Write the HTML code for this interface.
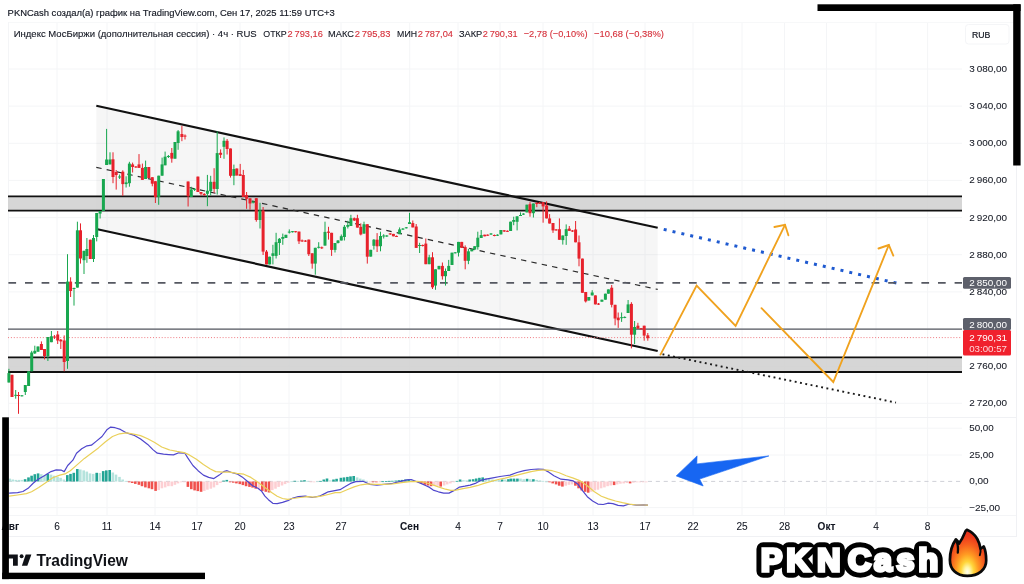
<!DOCTYPE html>
<html lang="ru"><head><meta charset="utf-8"><title>PKNCash - TradingView</title>
<style>
html,body{margin:0;padding:0;background:#fff;}
body{width:1024px;height:584px;overflow:hidden;position:relative;font-family:"Liberation Sans", sans-serif;}
svg{position:absolute;left:0;top:0;display:block}
text{font-family:"Liberation Sans", sans-serif;}
</style></head><body>
<svg width="1024" height="584" viewBox="0 0 1024 584">
<defs>
<radialGradient id="fireO" gradientUnits="userSpaceOnUse" cx="967.3" cy="572" r="40" gradientTransform="translate(967.3 0) scale(0.62 1) translate(-967.3 0)"><stop offset="0" stop-color="#fffff0"/><stop offset="0.12" stop-color="#fff6a8"/><stop offset="0.26" stop-color="#ffd53a"/><stop offset="0.45" stop-color="#ff9a22"/><stop offset="0.68" stop-color="#f7611e"/><stop offset="0.88" stop-color="#ee3c1c"/><stop offset="1" stop-color="#e6301a"/></radialGradient>
</defs>
<rect width="1024" height="584" fill="#fff"/>

<g stroke="#f4f5f7" stroke-width="1">
<line x1="57" y1="22" x2="57" y2="515"/>
<line x1="107" y1="22" x2="107" y2="515"/>
<line x1="155" y1="22" x2="155" y2="515"/>
<line x1="197" y1="22" x2="197" y2="515"/>
<line x1="240" y1="22" x2="240" y2="515"/>
<line x1="289" y1="22" x2="289" y2="515"/>
<line x1="341" y1="22" x2="341" y2="515"/>
<line x1="409.7" y1="22" x2="409.7" y2="515"/>
<line x1="458" y1="22" x2="458" y2="515"/>
<line x1="500" y1="22" x2="500" y2="515"/>
<line x1="543" y1="22" x2="543" y2="515"/>
<line x1="593" y1="22" x2="593" y2="515"/>
<line x1="645" y1="22" x2="645" y2="515"/>
<line x1="693" y1="22" x2="693" y2="515"/>
<line x1="742" y1="22" x2="742" y2="515"/>
<line x1="784.5" y1="22" x2="784.5" y2="515"/>
<line x1="826.5" y1="22" x2="826.5" y2="515"/>
<line x1="876" y1="22" x2="876" y2="515"/>
<line x1="927.6" y1="22" x2="927.6" y2="515"/>
<line x1="8" y1="403.3" x2="962" y2="403.3"/>
<line x1="8" y1="366.2" x2="962" y2="366.2"/>
<line x1="8" y1="329.0" x2="962" y2="329.0"/>
<line x1="8" y1="291.9" x2="962" y2="291.9"/>
<line x1="8" y1="254.7" x2="962" y2="254.7"/>
<line x1="8" y1="217.6" x2="962" y2="217.6"/>
<line x1="8" y1="180.4" x2="962" y2="180.4"/>
<line x1="8" y1="143.3" x2="962" y2="143.3"/>
<line x1="8" y1="106.1" x2="962" y2="106.1"/>
<line x1="8" y1="69.0" x2="962" y2="69.0"/>
<line x1="8" y1="428.2" x2="962" y2="428.2"/>
<line x1="8" y1="455" x2="962" y2="455"/>
<line x1="8" y1="507.6" x2="962" y2="507.6"/>
</g>
<g stroke="#f0f1f4" stroke-width="1" shape-rendering="crispEdges">
<line x1="8" y1="22.5" x2="1016" y2="22.5" stroke="#f7f8f9"/>
<line x1="8" y1="417.5" x2="1016" y2="417.5"/>
<line x1="8" y1="515.5" x2="1016" y2="515.5" stroke="#f4f5f7"/>
<line x1="8" y1="536.5" x2="1016" y2="536.5"/>
<line x1="1016.5" y1="22" x2="1016.5" y2="537"/>
<line x1="8.5" y1="22" x2="8.5" y2="537" stroke="#f4f5f7"/>
</g>
<polygon points="96.3,105.8 657.7,227.8 657.7,351.0 96.3,229.0" fill="#000" fill-opacity="0.035"/>
<rect x="8" y="196.3" width="954" height="14.4" fill="#cfcfcf" fill-opacity="0.85"/>
<rect x="8" y="357.3" width="954" height="14.7" fill="#cfcfcf" fill-opacity="0.85"/>
<line x1="8" y1="196.3" x2="962" y2="196.3" stroke="#111" stroke-width="1.8"/>
<line x1="8" y1="210.7" x2="962" y2="210.7" stroke="#111" stroke-width="1.8"/>
<line x1="8" y1="357.3" x2="962" y2="357.3" stroke="#111" stroke-width="1.8"/>
<line x1="8" y1="372.0" x2="962" y2="372.0" stroke="#111" stroke-width="1.8"/>
<line x1="96.3" y1="105.8" x2="657.7" y2="227.8" stroke="#111" stroke-width="2.2"/>
<line x1="96.3" y1="229.0" x2="657.7" y2="351.0" stroke="#111" stroke-width="2.2"/>
<line x1="96.3" y1="167.4" x2="657.7" y2="289.4" stroke="#2a2a2a" stroke-width="1.15" stroke-dasharray="5.4 5.2"/>
<line x1="663.7" y1="229.4" x2="897" y2="283.2" stroke="#1f5ad0" stroke-width="3" stroke-dasharray="3 6.07"/>
<line x1="662.5" y1="354.3" x2="896" y2="402.6" stroke="#1a1a1a" stroke-width="1.9" stroke-dasharray="1.9 3.5"/>
<line x1="8.4" y1="282.8" x2="962" y2="282.8" stroke="#555861" stroke-width="1.7" stroke-dasharray="7.7 8.9"/>
<line x1="8" y1="329.1" x2="962" y2="329.1" stroke="#53565f" stroke-width="1.3"/>
<line x1="8" y1="337.6" x2="962" y2="337.6" stroke="#ef7b82" stroke-width="1" stroke-dasharray="1 1.9"/>
<g id="candles">
<line x1="8.9" y1="368.8" x2="8.9" y2="382.5" stroke="#18a74f" stroke-width="1"/>
<rect x="7.40" y="373.1" width="3" height="9.4" fill="#18a74f"/>
<line x1="12" y1="374.8" x2="12" y2="397" stroke="#e7222c" stroke-width="1"/>
<rect x="10.50" y="374.8" width="3" height="22.2" fill="#e7222c"/>
<line x1="15.7" y1="390" x2="15.7" y2="398.7" stroke="#18a74f" stroke-width="1"/>
<rect x="14.20" y="394.8" width="3" height="1.0" fill="#18a74f"/>
<line x1="18.5" y1="392" x2="18.5" y2="413.8" stroke="#e7222c" stroke-width="1"/>
<rect x="17.00" y="395" width="3" height="1.0" fill="#e7222c"/>
<line x1="21.9" y1="395" x2="21.9" y2="396.5" stroke="#18a74f" stroke-width="1"/>
<rect x="20.40" y="395.3" width="3" height="1.0" fill="#18a74f"/>
<line x1="25.3" y1="385" x2="25.3" y2="395" stroke="#18a74f" stroke-width="1"/>
<rect x="23.80" y="385" width="3" height="7.0" fill="#18a74f"/>
<line x1="28.6" y1="371.3" x2="28.6" y2="386" stroke="#18a74f" stroke-width="1"/>
<rect x="27.10" y="371.3" width="3" height="14.7" fill="#18a74f"/>
<line x1="31.7" y1="350.8" x2="31.7" y2="371.3" stroke="#18a74f" stroke-width="1"/>
<rect x="30.20" y="352.5" width="3" height="18.8" fill="#18a74f"/>
<line x1="34.8" y1="345.7" x2="34.8" y2="354" stroke="#18a74f" stroke-width="1"/>
<rect x="33.30" y="350.8" width="3" height="2.6" fill="#18a74f"/>
<line x1="38" y1="346.5" x2="38" y2="351.7" stroke="#18a74f" stroke-width="1"/>
<rect x="36.50" y="346.5" width="3" height="5.2" fill="#18a74f"/>
<line x1="41.4" y1="341.4" x2="41.4" y2="350" stroke="#e7222c" stroke-width="1"/>
<rect x="39.90" y="344" width="3" height="6.0" fill="#e7222c"/>
<line x1="44.5" y1="349" x2="44.5" y2="359.4" stroke="#e7222c" stroke-width="1"/>
<rect x="43.00" y="349" width="3" height="7.0" fill="#e7222c"/>
<line x1="47.9" y1="337" x2="47.9" y2="361" stroke="#18a74f" stroke-width="1"/>
<rect x="46.40" y="337" width="3" height="19.0" fill="#18a74f"/>
<line x1="51.4" y1="331" x2="51.4" y2="342.2" stroke="#18a74f" stroke-width="1"/>
<rect x="49.90" y="336.3" width="3" height="5.9" fill="#18a74f"/>
<line x1="54.4" y1="335" x2="54.4" y2="339" stroke="#e7222c" stroke-width="1"/>
<rect x="52.90" y="336.5" width="3" height="1.0" fill="#e7222c"/>
<line x1="57.7" y1="331" x2="57.7" y2="344" stroke="#e7222c" stroke-width="1"/>
<rect x="56.20" y="334.5" width="3" height="6.0" fill="#e7222c"/>
<line x1="60.8" y1="339" x2="60.8" y2="349" stroke="#e7222c" stroke-width="1"/>
<rect x="59.30" y="339.7" width="3" height="1.7" fill="#e7222c"/>
<line x1="64.2" y1="335.4" x2="64.2" y2="371.3" stroke="#e7222c" stroke-width="1"/>
<rect x="62.70" y="340.5" width="3" height="21.5" fill="#e7222c"/>
<line x1="67.5" y1="254.2" x2="67.5" y2="368.8" stroke="#18a74f" stroke-width="1"/>
<rect x="66.00" y="281.6" width="3" height="79.4" fill="#18a74f"/>
<line x1="70.6" y1="277.3" x2="70.6" y2="297" stroke="#e7222c" stroke-width="1"/>
<rect x="69.10" y="281.6" width="3" height="9.4" fill="#e7222c"/>
<line x1="74" y1="287.6" x2="74" y2="305.6" stroke="#18a74f" stroke-width="1"/>
<rect x="72.50" y="288" width="3" height="1.0" fill="#18a74f"/>
<line x1="77.4" y1="221.7" x2="77.4" y2="287.6" stroke="#18a74f" stroke-width="1"/>
<rect x="75.90" y="230.3" width="3" height="57.3" fill="#18a74f"/>
<line x1="80.5" y1="223.4" x2="80.5" y2="263.6" stroke="#e7222c" stroke-width="1"/>
<rect x="79.00" y="230.3" width="3" height="28.2" fill="#e7222c"/>
<line x1="84" y1="250.8" x2="84" y2="274" stroke="#18a74f" stroke-width="1"/>
<rect x="82.50" y="250.8" width="3" height="9.4" fill="#18a74f"/>
<line x1="86.9" y1="238" x2="86.9" y2="262.8" stroke="#18a74f" stroke-width="1"/>
<rect x="85.40" y="249" width="3" height="7.0" fill="#18a74f"/>
<line x1="90.3" y1="239.7" x2="90.3" y2="259" stroke="#e7222c" stroke-width="1"/>
<rect x="88.80" y="239.7" width="3" height="19.3" fill="#e7222c"/>
<line x1="93.5" y1="235" x2="93.5" y2="262" stroke="#18a74f" stroke-width="1"/>
<rect x="92.00" y="238" width="3" height="21.0" fill="#18a74f"/>
<line x1="96.7" y1="213" x2="96.7" y2="241.4" stroke="#18a74f" stroke-width="1"/>
<rect x="95.20" y="213" width="3" height="24.0" fill="#18a74f"/>
<line x1="100.1" y1="211" x2="100.1" y2="218.5" stroke="#18a74f" stroke-width="1"/>
<rect x="98.60" y="211" width="3" height="2.6" fill="#18a74f"/>
<line x1="103.4" y1="179" x2="103.4" y2="211" stroke="#18a74f" stroke-width="1"/>
<rect x="101.90" y="179" width="3" height="32.0" fill="#18a74f"/>
<line x1="106.6" y1="128.9" x2="106.6" y2="165" stroke="#18a74f" stroke-width="1"/>
<rect x="105.10" y="159.5" width="3" height="5.5" fill="#18a74f"/>
<line x1="110" y1="152.3" x2="110" y2="164.4" stroke="#18a74f" stroke-width="1"/>
<rect x="108.50" y="159.5" width="3" height="4.9" fill="#18a74f"/>
<line x1="113" y1="152.3" x2="113" y2="183.2" stroke="#e7222c" stroke-width="1"/>
<rect x="111.50" y="159.3" width="3" height="17.7" fill="#e7222c"/>
<line x1="116.2" y1="170" x2="116.2" y2="189.6" stroke="#e7222c" stroke-width="1"/>
<rect x="114.70" y="172" width="3" height="3.0" fill="#e7222c"/>
<line x1="119.6" y1="174.5" x2="119.6" y2="179" stroke="#18a74f" stroke-width="1"/>
<rect x="118.10" y="176.5" width="3" height="1.0" fill="#18a74f"/>
<line x1="122.8" y1="170.3" x2="122.8" y2="195.9" stroke="#e7222c" stroke-width="1"/>
<rect x="121.30" y="171.7" width="3" height="12.4" fill="#e7222c"/>
<line x1="126.1" y1="176.3" x2="126.1" y2="187.5" stroke="#18a74f" stroke-width="1"/>
<rect x="124.60" y="182.4" width="3" height="1.7" fill="#18a74f"/>
<line x1="129.4" y1="161.8" x2="129.4" y2="186.7" stroke="#18a74f" stroke-width="1"/>
<rect x="127.90" y="163.6" width="3" height="19.6" fill="#18a74f"/>
<line x1="132.6" y1="162.6" x2="132.6" y2="172.5" stroke="#e7222c" stroke-width="1"/>
<rect x="131.10" y="164.4" width="3" height="2.6" fill="#e7222c"/>
<line x1="135.9" y1="166" x2="135.9" y2="168" stroke="#e7222c" stroke-width="1"/>
<rect x="134.40" y="166.5" width="3" height="1.0" fill="#e7222c"/>
<line x1="139" y1="154.1" x2="139" y2="167.9" stroke="#e7222c" stroke-width="1"/>
<rect x="137.50" y="164.4" width="3" height="3.5" fill="#e7222c"/>
<line x1="142.4" y1="163.6" x2="142.4" y2="179.9" stroke="#e7222c" stroke-width="1"/>
<rect x="140.90" y="167.9" width="3" height="12.0" fill="#e7222c"/>
<line x1="145.6" y1="160.6" x2="145.6" y2="179" stroke="#18a74f" stroke-width="1"/>
<rect x="144.10" y="167" width="3" height="12.0" fill="#18a74f"/>
<line x1="148.8" y1="167" x2="148.8" y2="178.1" stroke="#e7222c" stroke-width="1"/>
<rect x="147.30" y="167" width="3" height="11.1" fill="#e7222c"/>
<line x1="152.3" y1="177.2" x2="152.3" y2="186.3" stroke="#e7222c" stroke-width="1"/>
<rect x="150.80" y="177.2" width="3" height="6.5" fill="#e7222c"/>
<line x1="155.4" y1="181.2" x2="155.4" y2="203" stroke="#e7222c" stroke-width="1"/>
<rect x="153.90" y="181.2" width="3" height="15.8" fill="#e7222c"/>
<line x1="158.7" y1="175.7" x2="158.7" y2="204.8" stroke="#18a74f" stroke-width="1"/>
<rect x="157.20" y="175.7" width="3" height="21.3" fill="#18a74f"/>
<line x1="162.1" y1="157.6" x2="162.1" y2="175.7" stroke="#18a74f" stroke-width="1"/>
<rect x="160.60" y="164.4" width="3" height="11.3" fill="#18a74f"/>
<line x1="165.1" y1="151.6" x2="165.1" y2="165.3" stroke="#18a74f" stroke-width="1"/>
<rect x="163.60" y="156.7" width="3" height="8.6" fill="#18a74f"/>
<line x1="168.4" y1="155" x2="168.4" y2="158" stroke="#18a74f" stroke-width="1"/>
<rect x="166.90" y="156" width="3" height="1.0" fill="#18a74f"/>
<line x1="171.8" y1="148" x2="171.8" y2="162.7" stroke="#e7222c" stroke-width="1"/>
<rect x="170.30" y="152.9" width="3" height="5.7" fill="#e7222c"/>
<line x1="175" y1="142" x2="175" y2="158.7" stroke="#18a74f" stroke-width="1"/>
<rect x="173.50" y="142" width="3" height="16.7" fill="#18a74f"/>
<line x1="178.1" y1="130" x2="178.1" y2="149.8" stroke="#18a74f" stroke-width="1"/>
<rect x="176.60" y="131.3" width="3" height="11.7" fill="#18a74f"/>
<line x1="181.9" y1="125.8" x2="181.9" y2="141.2" stroke="#e7222c" stroke-width="1"/>
<rect x="180.40" y="134" width="3" height="3.0" fill="#e7222c"/>
<line x1="185" y1="134.4" x2="185" y2="139.5" stroke="#e7222c" stroke-width="1"/>
<rect x="183.50" y="135.6" width="3" height="1.0" fill="#e7222c"/>
<line x1="188.1" y1="181.5" x2="188.1" y2="206.5" stroke="#e7222c" stroke-width="1"/>
<rect x="186.60" y="181.5" width="3" height="14.7" fill="#e7222c"/>
<line x1="191.3" y1="186.8" x2="191.3" y2="197" stroke="#18a74f" stroke-width="1"/>
<rect x="189.80" y="189.4" width="3" height="7.6" fill="#18a74f"/>
<line x1="194.6" y1="188" x2="194.6" y2="191" stroke="#18a74f" stroke-width="1"/>
<rect x="193.10" y="188.8" width="3" height="1.0" fill="#18a74f"/>
<line x1="197.9" y1="176.6" x2="197.9" y2="192" stroke="#e7222c" stroke-width="1"/>
<rect x="196.40" y="176.6" width="3" height="15.4" fill="#e7222c"/>
<line x1="201" y1="192" x2="201" y2="195.5" stroke="#e7222c" stroke-width="1"/>
<rect x="199.50" y="192" width="3" height="1.8" fill="#e7222c"/>
<line x1="204.2" y1="193" x2="204.2" y2="196" stroke="#e7222c" stroke-width="1"/>
<rect x="202.70" y="194" width="3" height="1.0" fill="#e7222c"/>
<line x1="207.4" y1="174.9" x2="207.4" y2="206.2" stroke="#18a74f" stroke-width="1"/>
<rect x="205.90" y="190.7" width="3" height="3.1" fill="#18a74f"/>
<line x1="210.7" y1="175.8" x2="210.7" y2="195.4" stroke="#18a74f" stroke-width="1"/>
<rect x="209.20" y="181.8" width="3" height="9.4" fill="#18a74f"/>
<line x1="214.1" y1="168.2" x2="214.1" y2="192.8" stroke="#e7222c" stroke-width="1"/>
<rect x="212.60" y="181.8" width="3" height="7.1" fill="#e7222c"/>
<line x1="217.2" y1="131.4" x2="217.2" y2="194.6" stroke="#18a74f" stroke-width="1"/>
<rect x="215.70" y="153.1" width="3" height="35.9" fill="#18a74f"/>
<line x1="220.6" y1="149.4" x2="220.6" y2="158" stroke="#e7222c" stroke-width="1"/>
<rect x="219.10" y="152.8" width="3" height="2.0" fill="#e7222c"/>
<line x1="224" y1="137.4" x2="224" y2="158.8" stroke="#18a74f" stroke-width="1"/>
<rect x="222.50" y="140.8" width="3" height="6.0" fill="#18a74f"/>
<line x1="227.1" y1="139" x2="227.1" y2="154.5" stroke="#e7222c" stroke-width="1"/>
<rect x="225.60" y="140.8" width="3" height="8.2" fill="#e7222c"/>
<line x1="230.5" y1="148.5" x2="230.5" y2="177.6" stroke="#e7222c" stroke-width="1"/>
<rect x="229.00" y="148.5" width="3" height="27.3" fill="#e7222c"/>
<line x1="233.9" y1="164.6" x2="233.9" y2="185.2" stroke="#18a74f" stroke-width="1"/>
<rect x="232.40" y="169" width="3" height="6.8" fill="#18a74f"/>
<line x1="236.8" y1="168.5" x2="236.8" y2="175.5" stroke="#e7222c" stroke-width="1"/>
<rect x="235.30" y="168.5" width="3" height="7.0" fill="#e7222c"/>
<line x1="240.2" y1="163.9" x2="240.2" y2="175.9" stroke="#e7222c" stroke-width="1"/>
<rect x="238.70" y="174.2" width="3" height="1.7" fill="#e7222c"/>
<line x1="243.3" y1="169.9" x2="243.3" y2="197" stroke="#e7222c" stroke-width="1"/>
<rect x="241.80" y="175" width="3" height="22.0" fill="#e7222c"/>
<line x1="246.6" y1="192" x2="246.6" y2="208.8" stroke="#e7222c" stroke-width="1"/>
<rect x="245.10" y="195" width="3" height="3.8" fill="#e7222c"/>
<line x1="250" y1="198.3" x2="250" y2="209.7" stroke="#e7222c" stroke-width="1"/>
<rect x="248.50" y="198.3" width="3" height="5.2" fill="#e7222c"/>
<line x1="253.1" y1="200.5" x2="253.1" y2="203.5" stroke="#18a74f" stroke-width="1"/>
<rect x="251.60" y="201.7" width="3" height="1.0" fill="#18a74f"/>
<line x1="256.3" y1="198.2" x2="256.3" y2="221.7" stroke="#e7222c" stroke-width="1"/>
<rect x="254.80" y="198.2" width="3" height="21.8" fill="#e7222c"/>
<line x1="260" y1="202.8" x2="260" y2="228.5" stroke="#18a74f" stroke-width="1"/>
<rect x="258.50" y="210.5" width="3" height="9.5" fill="#18a74f"/>
<line x1="263.1" y1="207" x2="263.1" y2="255" stroke="#e7222c" stroke-width="1"/>
<rect x="261.60" y="210.5" width="3" height="41.1" fill="#e7222c"/>
<line x1="266.5" y1="250" x2="266.5" y2="264.4" stroke="#e7222c" stroke-width="1"/>
<rect x="265.00" y="251.6" width="3" height="12.8" fill="#e7222c"/>
<line x1="269.6" y1="256.7" x2="269.6" y2="264.4" stroke="#18a74f" stroke-width="1"/>
<rect x="268.10" y="256.7" width="3" height="7.7" fill="#18a74f"/>
<line x1="272.9" y1="244.8" x2="272.9" y2="264.4" stroke="#18a74f" stroke-width="1"/>
<rect x="271.40" y="253.3" width="3" height="2.6" fill="#18a74f"/>
<line x1="276.1" y1="232.8" x2="276.1" y2="258.5" stroke="#18a74f" stroke-width="1"/>
<rect x="274.60" y="242.2" width="3" height="13.7" fill="#18a74f"/>
<line x1="279.4" y1="238" x2="279.4" y2="255" stroke="#18a74f" stroke-width="1"/>
<rect x="277.90" y="238.8" width="3" height="4.2" fill="#18a74f"/>
<line x1="282.8" y1="233.6" x2="282.8" y2="244.8" stroke="#18a74f" stroke-width="1"/>
<rect x="281.30" y="237" width="3" height="1.8" fill="#18a74f"/>
<line x1="285.9" y1="234.8" x2="285.9" y2="237.9" stroke="#18a74f" stroke-width="1"/>
<rect x="284.40" y="234.8" width="3" height="3.1" fill="#18a74f"/>
<line x1="289.3" y1="229.4" x2="289.3" y2="233.5" stroke="#18a74f" stroke-width="1"/>
<rect x="287.80" y="231.6" width="3" height="1.0" fill="#18a74f"/>
<line x1="292.5" y1="231" x2="292.5" y2="232.5" stroke="#18a74f" stroke-width="1"/>
<rect x="291.00" y="231.2" width="3" height="1.0" fill="#18a74f"/>
<line x1="295.6" y1="231" x2="295.6" y2="232.5" stroke="#e7222c" stroke-width="1"/>
<rect x="294.10" y="231.2" width="3" height="1.0" fill="#e7222c"/>
<line x1="299" y1="231.6" x2="299" y2="244" stroke="#e7222c" stroke-width="1"/>
<rect x="297.50" y="231.6" width="3" height="9.7" fill="#e7222c"/>
<line x1="302.1" y1="239.5" x2="302.1" y2="242" stroke="#e7222c" stroke-width="1"/>
<rect x="300.60" y="240.4" width="3" height="1.0" fill="#e7222c"/>
<line x1="305.4" y1="240" x2="305.4" y2="242" stroke="#e7222c" stroke-width="1"/>
<rect x="303.90" y="240.6" width="3" height="1.0" fill="#e7222c"/>
<line x1="308.8" y1="239.6" x2="308.8" y2="256" stroke="#e7222c" stroke-width="1"/>
<rect x="307.30" y="239.6" width="3" height="14.6" fill="#e7222c"/>
<line x1="312.2" y1="253.3" x2="312.2" y2="268.7" stroke="#e7222c" stroke-width="1"/>
<rect x="310.70" y="253.3" width="3" height="10.3" fill="#e7222c"/>
<line x1="315.3" y1="247.8" x2="315.3" y2="274.7" stroke="#18a74f" stroke-width="1"/>
<rect x="313.80" y="247.8" width="3" height="15.8" fill="#18a74f"/>
<line x1="318.7" y1="242.2" x2="318.7" y2="248.5" stroke="#18a74f" stroke-width="1"/>
<rect x="317.20" y="246.8" width="3" height="1.0" fill="#18a74f"/>
<line x1="321.8" y1="246.5" x2="321.8" y2="249" stroke="#e7222c" stroke-width="1"/>
<rect x="320.30" y="247.3" width="3" height="1.0" fill="#e7222c"/>
<line x1="325" y1="221.7" x2="325" y2="245.6" stroke="#18a74f" stroke-width="1"/>
<rect x="323.50" y="231.9" width="3" height="13.7" fill="#18a74f"/>
<line x1="328.5" y1="226.8" x2="328.5" y2="239.6" stroke="#e7222c" stroke-width="1"/>
<rect x="327.00" y="231.6" width="3" height="1.2" fill="#e7222c"/>
<line x1="331.6" y1="232.8" x2="331.6" y2="255.9" stroke="#e7222c" stroke-width="1"/>
<rect x="330.10" y="232.8" width="3" height="17.1" fill="#e7222c"/>
<line x1="335" y1="243" x2="335" y2="252.5" stroke="#18a74f" stroke-width="1"/>
<rect x="333.50" y="243" width="3" height="6.9" fill="#18a74f"/>
<line x1="338" y1="240" x2="338" y2="243.5" stroke="#18a74f" stroke-width="1"/>
<rect x="336.50" y="240.5" width="3" height="2.5" fill="#18a74f"/>
<line x1="341.3" y1="234.5" x2="341.3" y2="240.5" stroke="#18a74f" stroke-width="1"/>
<rect x="339.80" y="236.2" width="3" height="4.3" fill="#18a74f"/>
<line x1="344.4" y1="225" x2="344.4" y2="240.5" stroke="#18a74f" stroke-width="1"/>
<rect x="342.90" y="226.8" width="3" height="10.2" fill="#18a74f"/>
<line x1="347.8" y1="220.8" x2="347.8" y2="228.5" stroke="#18a74f" stroke-width="1"/>
<rect x="346.30" y="225" width="3" height="1.8" fill="#18a74f"/>
<line x1="350.9" y1="214.8" x2="350.9" y2="226" stroke="#18a74f" stroke-width="1"/>
<rect x="349.40" y="218.2" width="3" height="7.8" fill="#18a74f"/>
<line x1="354.3" y1="217.5" x2="354.3" y2="221" stroke="#e7222c" stroke-width="1"/>
<rect x="352.80" y="218.2" width="3" height="2.3" fill="#e7222c"/>
<line x1="357.4" y1="214.8" x2="357.4" y2="227.6" stroke="#e7222c" stroke-width="1"/>
<rect x="355.90" y="218.2" width="3" height="9.4" fill="#e7222c"/>
<line x1="360.8" y1="223.4" x2="360.8" y2="235.4" stroke="#e7222c" stroke-width="1"/>
<rect x="359.30" y="226.8" width="3" height="7.7" fill="#e7222c"/>
<line x1="364" y1="221.7" x2="364" y2="233.6" stroke="#18a74f" stroke-width="1"/>
<rect x="362.50" y="224.2" width="3" height="9.4" fill="#18a74f"/>
<line x1="367.3" y1="224.2" x2="367.3" y2="263.6" stroke="#e7222c" stroke-width="1"/>
<rect x="365.80" y="224.2" width="3" height="32.5" fill="#e7222c"/>
<line x1="370.7" y1="249.8" x2="370.7" y2="256.6" stroke="#18a74f" stroke-width="1"/>
<rect x="369.20" y="249.8" width="3" height="6.8" fill="#18a74f"/>
<line x1="373.9" y1="239" x2="373.9" y2="249.6" stroke="#18a74f" stroke-width="1"/>
<rect x="372.40" y="239.7" width="3" height="6.1" fill="#18a74f"/>
<line x1="377.1" y1="233.1" x2="377.1" y2="252" stroke="#e7222c" stroke-width="1"/>
<rect x="375.60" y="239.7" width="3" height="6.6" fill="#e7222c"/>
<line x1="380.5" y1="231.7" x2="380.5" y2="251.3" stroke="#18a74f" stroke-width="1"/>
<rect x="379.00" y="236" width="3" height="10.2" fill="#18a74f"/>
<line x1="383.7" y1="234.2" x2="383.7" y2="238.5" stroke="#18a74f" stroke-width="1"/>
<rect x="382.20" y="235.5" width="3" height="1.0" fill="#18a74f"/>
<line x1="386.8" y1="235" x2="386.8" y2="237" stroke="#18a74f" stroke-width="1"/>
<rect x="385.30" y="235.5" width="3" height="1.0" fill="#18a74f"/>
<line x1="390.2" y1="233" x2="390.2" y2="235" stroke="#e7222c" stroke-width="1"/>
<rect x="388.70" y="233.4" width="3" height="1.0" fill="#e7222c"/>
<line x1="393.4" y1="233.9" x2="393.4" y2="236.3" stroke="#e7222c" stroke-width="1"/>
<rect x="391.90" y="233.9" width="3" height="2.4" fill="#e7222c"/>
<line x1="396.5" y1="235.5" x2="396.5" y2="237" stroke="#e7222c" stroke-width="1"/>
<rect x="395.00" y="235.9" width="3" height="1.0" fill="#e7222c"/>
<line x1="399.6" y1="227.4" x2="399.6" y2="234.2" stroke="#18a74f" stroke-width="1"/>
<rect x="398.10" y="229.4" width="3" height="4.8" fill="#18a74f"/>
<line x1="402.9" y1="228" x2="402.9" y2="230" stroke="#18a74f" stroke-width="1"/>
<rect x="401.40" y="228.6" width="3" height="1.0" fill="#18a74f"/>
<line x1="406.3" y1="227" x2="406.3" y2="228.5" stroke="#18a74f" stroke-width="1"/>
<rect x="404.80" y="227.3" width="3" height="1.0" fill="#18a74f"/>
<line x1="409.5" y1="212.8" x2="409.5" y2="224" stroke="#18a74f" stroke-width="1"/>
<rect x="408.00" y="222.2" width="3" height="1.8" fill="#18a74f"/>
<line x1="412.8" y1="220.5" x2="412.8" y2="227.4" stroke="#e7222c" stroke-width="1"/>
<rect x="411.30" y="223.1" width="3" height="4.3" fill="#e7222c"/>
<line x1="416.2" y1="224" x2="416.2" y2="247.9" stroke="#e7222c" stroke-width="1"/>
<rect x="414.70" y="226.5" width="3" height="21.4" fill="#e7222c"/>
<line x1="419.6" y1="242.8" x2="419.6" y2="253" stroke="#18a74f" stroke-width="1"/>
<rect x="418.10" y="245" width="3" height="1.0" fill="#18a74f"/>
<line x1="422.7" y1="244.5" x2="422.7" y2="246.5" stroke="#e7222c" stroke-width="1"/>
<rect x="421.20" y="245" width="3" height="1.0" fill="#e7222c"/>
<line x1="425.8" y1="238.5" x2="425.8" y2="264.2" stroke="#e7222c" stroke-width="1"/>
<rect x="424.30" y="243.6" width="3" height="20.6" fill="#e7222c"/>
<line x1="429.2" y1="254.8" x2="429.2" y2="264.2" stroke="#18a74f" stroke-width="1"/>
<rect x="427.70" y="257.3" width="3" height="6.9" fill="#18a74f"/>
<line x1="432.5" y1="252.2" x2="432.5" y2="289" stroke="#e7222c" stroke-width="1"/>
<rect x="431.00" y="257.3" width="3" height="30.0" fill="#e7222c"/>
<line x1="435.5" y1="269.3" x2="435.5" y2="289.8" stroke="#18a74f" stroke-width="1"/>
<rect x="434.00" y="269.3" width="3" height="16.3" fill="#18a74f"/>
<line x1="439" y1="265.9" x2="439" y2="269.3" stroke="#18a74f" stroke-width="1"/>
<rect x="437.50" y="265.9" width="3" height="3.4" fill="#18a74f"/>
<line x1="442.4" y1="262.5" x2="442.4" y2="279.6" stroke="#e7222c" stroke-width="1"/>
<rect x="440.90" y="265.9" width="3" height="10.3" fill="#e7222c"/>
<line x1="445.5" y1="268.5" x2="445.5" y2="285.6" stroke="#18a74f" stroke-width="1"/>
<rect x="444.00" y="271" width="3" height="5.2" fill="#18a74f"/>
<line x1="448.7" y1="259.9" x2="448.7" y2="271" stroke="#18a74f" stroke-width="1"/>
<rect x="447.20" y="265.9" width="3" height="5.1" fill="#18a74f"/>
<line x1="452" y1="252.7" x2="452" y2="265" stroke="#18a74f" stroke-width="1"/>
<rect x="450.50" y="252.7" width="3" height="12.3" fill="#18a74f"/>
<line x1="455.2" y1="252" x2="455.2" y2="253.5" stroke="#18a74f" stroke-width="1"/>
<rect x="453.70" y="252.3" width="3" height="1.0" fill="#18a74f"/>
<line x1="458.5" y1="241.9" x2="458.5" y2="256.5" stroke="#18a74f" stroke-width="1"/>
<rect x="457.00" y="241.9" width="3" height="10.8" fill="#18a74f"/>
<line x1="461.7" y1="241.9" x2="461.7" y2="247.9" stroke="#e7222c" stroke-width="1"/>
<rect x="460.20" y="241.9" width="3" height="6.0" fill="#e7222c"/>
<line x1="465.2" y1="245.4" x2="465.2" y2="269.3" stroke="#e7222c" stroke-width="1"/>
<rect x="463.70" y="247.1" width="3" height="13.7" fill="#e7222c"/>
<line x1="468.4" y1="248.8" x2="468.4" y2="264.2" stroke="#18a74f" stroke-width="1"/>
<rect x="466.90" y="251.3" width="3" height="9.5" fill="#18a74f"/>
<line x1="471.8" y1="249.3" x2="471.8" y2="251.3" stroke="#18a74f" stroke-width="1"/>
<rect x="470.30" y="249.3" width="3" height="2.0" fill="#18a74f"/>
<line x1="474.7" y1="246.2" x2="474.7" y2="249.6" stroke="#18a74f" stroke-width="1"/>
<rect x="473.20" y="246.2" width="3" height="3.4" fill="#18a74f"/>
<line x1="477.8" y1="231.7" x2="477.8" y2="249.6" stroke="#18a74f" stroke-width="1"/>
<rect x="476.30" y="237.7" width="3" height="9.4" fill="#18a74f"/>
<line x1="481.2" y1="230" x2="481.2" y2="238" stroke="#18a74f" stroke-width="1"/>
<rect x="479.70" y="235.1" width="3" height="2.9" fill="#18a74f"/>
<line x1="484.7" y1="234.7" x2="484.7" y2="236.3" stroke="#e7222c" stroke-width="1"/>
<rect x="483.20" y="234.7" width="3" height="1.6" fill="#e7222c"/>
<line x1="487.7" y1="234.3" x2="487.7" y2="236" stroke="#e7222c" stroke-width="1"/>
<rect x="486.20" y="234.7" width="3" height="1.0" fill="#e7222c"/>
<line x1="491" y1="233" x2="491" y2="235" stroke="#18a74f" stroke-width="1"/>
<rect x="489.50" y="233.5" width="3" height="1.0" fill="#18a74f"/>
<line x1="494.4" y1="234.5" x2="494.4" y2="236.3" stroke="#e7222c" stroke-width="1"/>
<rect x="492.90" y="235" width="3" height="1.0" fill="#e7222c"/>
<line x1="497.5" y1="234.3" x2="497.5" y2="236" stroke="#18a74f" stroke-width="1"/>
<rect x="496.00" y="234.7" width="3" height="1.0" fill="#18a74f"/>
<line x1="500.9" y1="230" x2="500.9" y2="234.4" stroke="#18a74f" stroke-width="1"/>
<rect x="499.40" y="230" width="3" height="4.4" fill="#18a74f"/>
<line x1="504.2" y1="230" x2="504.2" y2="232" stroke="#e7222c" stroke-width="1"/>
<rect x="502.70" y="230.3" width="3" height="1.2" fill="#e7222c"/>
<line x1="507.4" y1="230.4" x2="507.4" y2="232" stroke="#e7222c" stroke-width="1"/>
<rect x="505.90" y="230.8" width="3" height="1.0" fill="#e7222c"/>
<line x1="510.6" y1="221.7" x2="510.6" y2="231" stroke="#18a74f" stroke-width="1"/>
<rect x="509.10" y="221.7" width="3" height="9.3" fill="#18a74f"/>
<line x1="513.7" y1="216.7" x2="513.7" y2="225.2" stroke="#18a74f" stroke-width="1"/>
<rect x="512.20" y="220" width="3" height="1.8" fill="#18a74f"/>
<line x1="517.1" y1="216.3" x2="517.1" y2="230.4" stroke="#18a74f" stroke-width="1"/>
<rect x="515.60" y="216.3" width="3" height="5.5" fill="#18a74f"/>
<line x1="520.5" y1="212.4" x2="520.5" y2="216" stroke="#18a74f" stroke-width="1"/>
<rect x="519.00" y="215" width="3" height="1.0" fill="#18a74f"/>
<line x1="523.4" y1="213.2" x2="523.4" y2="215" stroke="#18a74f" stroke-width="1"/>
<rect x="521.90" y="213.6" width="3" height="1.0" fill="#18a74f"/>
<line x1="526.9" y1="204.7" x2="526.9" y2="212.4" stroke="#18a74f" stroke-width="1"/>
<rect x="525.40" y="204.7" width="3" height="7.7" fill="#18a74f"/>
<line x1="530" y1="202.1" x2="530" y2="216.7" stroke="#e7222c" stroke-width="1"/>
<rect x="528.50" y="204.2" width="3" height="9.0" fill="#e7222c"/>
<line x1="533.4" y1="203.5" x2="533.4" y2="217.5" stroke="#18a74f" stroke-width="1"/>
<rect x="531.90" y="203.5" width="3" height="9.7" fill="#18a74f"/>
<line x1="536.8" y1="202.1" x2="536.8" y2="207.2" stroke="#e7222c" stroke-width="1"/>
<rect x="535.30" y="203" width="3" height="1.0" fill="#e7222c"/>
<line x1="539.7" y1="202" x2="539.7" y2="204" stroke="#e7222c" stroke-width="1"/>
<rect x="538.20" y="202.6" width="3" height="1.0" fill="#e7222c"/>
<line x1="543.1" y1="202.1" x2="543.1" y2="222.7" stroke="#e7222c" stroke-width="1"/>
<rect x="541.60" y="202.1" width="3" height="4.3" fill="#e7222c"/>
<line x1="546.6" y1="201.3" x2="546.6" y2="218.4" stroke="#e7222c" stroke-width="1"/>
<rect x="545.10" y="205.5" width="3" height="12.9" fill="#e7222c"/>
<line x1="549.6" y1="214.1" x2="549.6" y2="223.5" stroke="#e7222c" stroke-width="1"/>
<rect x="548.10" y="218.4" width="3" height="5.1" fill="#e7222c"/>
<line x1="553" y1="223" x2="553" y2="232.9" stroke="#e7222c" stroke-width="1"/>
<rect x="551.50" y="223" width="3" height="7.4" fill="#e7222c"/>
<line x1="556.1" y1="229" x2="556.1" y2="230.8" stroke="#e7222c" stroke-width="1"/>
<rect x="554.60" y="229.4" width="3" height="1.0" fill="#e7222c"/>
<line x1="559.4" y1="218.4" x2="559.4" y2="239.8" stroke="#e7222c" stroke-width="1"/>
<rect x="557.90" y="229.2" width="3" height="10.6" fill="#e7222c"/>
<line x1="562.8" y1="235.5" x2="562.8" y2="244.6" stroke="#18a74f" stroke-width="1"/>
<rect x="561.30" y="235.5" width="3" height="4.6" fill="#18a74f"/>
<line x1="566.2" y1="224.4" x2="566.2" y2="244.9" stroke="#18a74f" stroke-width="1"/>
<rect x="564.70" y="229.2" width="3" height="6.8" fill="#18a74f"/>
<line x1="569.3" y1="226" x2="569.3" y2="230.9" stroke="#e7222c" stroke-width="1"/>
<rect x="567.80" y="228.6" width="3" height="2.3" fill="#e7222c"/>
<line x1="572.4" y1="230" x2="572.4" y2="232" stroke="#e7222c" stroke-width="1"/>
<rect x="570.90" y="230.5" width="3" height="1.0" fill="#e7222c"/>
<line x1="575.6" y1="221" x2="575.6" y2="242.3" stroke="#e7222c" stroke-width="1"/>
<rect x="574.10" y="229.5" width="3" height="12.8" fill="#e7222c"/>
<line x1="579" y1="235.5" x2="579" y2="266.3" stroke="#e7222c" stroke-width="1"/>
<rect x="577.50" y="242.3" width="3" height="16.3" fill="#e7222c"/>
<line x1="582.4" y1="258.6" x2="582.4" y2="292.8" stroke="#e7222c" stroke-width="1"/>
<rect x="580.90" y="258.6" width="3" height="34.2" fill="#e7222c"/>
<line x1="585.7" y1="292" x2="585.7" y2="302.5" stroke="#e7222c" stroke-width="1"/>
<rect x="584.20" y="292" width="3" height="9.4" fill="#e7222c"/>
<line x1="588.8" y1="297" x2="588.8" y2="300.5" stroke="#18a74f" stroke-width="1"/>
<rect x="587.30" y="297" width="3" height="3.5" fill="#18a74f"/>
<line x1="592.2" y1="290.2" x2="592.2" y2="295.4" stroke="#18a74f" stroke-width="1"/>
<rect x="590.70" y="292.5" width="3" height="2.9" fill="#18a74f"/>
<line x1="595.4" y1="295.4" x2="595.4" y2="304.4" stroke="#e7222c" stroke-width="1"/>
<rect x="593.90" y="295.4" width="3" height="9.0" fill="#e7222c"/>
<line x1="598.5" y1="303" x2="598.5" y2="305" stroke="#e7222c" stroke-width="1"/>
<rect x="597.00" y="303.6" width="3" height="1.0" fill="#e7222c"/>
<line x1="601.9" y1="299.7" x2="601.9" y2="301.7" stroke="#18a74f" stroke-width="1"/>
<rect x="600.40" y="299.7" width="3" height="2.0" fill="#18a74f"/>
<line x1="605.4" y1="293.7" x2="605.4" y2="299.7" stroke="#18a74f" stroke-width="1"/>
<rect x="603.90" y="293.7" width="3" height="6.0" fill="#18a74f"/>
<line x1="608.4" y1="289.4" x2="608.4" y2="293.7" stroke="#18a74f" stroke-width="1"/>
<rect x="606.90" y="289.4" width="3" height="4.3" fill="#18a74f"/>
<line x1="611.7" y1="285" x2="611.7" y2="307.4" stroke="#e7222c" stroke-width="1"/>
<rect x="610.20" y="287.7" width="3" height="17.1" fill="#e7222c"/>
<line x1="615.1" y1="304.8" x2="615.1" y2="325.3" stroke="#e7222c" stroke-width="1"/>
<rect x="613.60" y="304.8" width="3" height="13.7" fill="#e7222c"/>
<line x1="618.2" y1="312.5" x2="618.2" y2="327.9" stroke="#e7222c" stroke-width="1"/>
<rect x="616.70" y="317.6" width="3" height="2.6" fill="#e7222c"/>
<line x1="621.6" y1="312.5" x2="621.6" y2="321.9" stroke="#18a74f" stroke-width="1"/>
<rect x="620.10" y="317.2" width="3" height="1.0" fill="#18a74f"/>
<line x1="624.7" y1="316.4" x2="624.7" y2="318.2" stroke="#18a74f" stroke-width="1"/>
<rect x="623.20" y="316.9" width="3" height="1.0" fill="#18a74f"/>
<line x1="628.1" y1="300" x2="628.1" y2="313" stroke="#18a74f" stroke-width="1"/>
<rect x="626.60" y="304.4" width="3" height="8.6" fill="#18a74f"/>
<line x1="631.4" y1="302.2" x2="631.4" y2="348.4" stroke="#e7222c" stroke-width="1"/>
<rect x="629.90" y="303.9" width="3" height="30.8" fill="#e7222c"/>
<line x1="634.6" y1="321" x2="634.6" y2="344.1" stroke="#18a74f" stroke-width="1"/>
<rect x="633.10" y="327" width="3" height="7.7" fill="#18a74f"/>
<line x1="637.9" y1="322.8" x2="637.9" y2="328.7" stroke="#e7222c" stroke-width="1"/>
<rect x="636.40" y="325.7" width="3" height="3.0" fill="#e7222c"/>
<line x1="641.1" y1="328" x2="641.1" y2="329.5" stroke="#e7222c" stroke-width="1"/>
<rect x="639.60" y="328.3" width="3" height="1.0" fill="#e7222c"/>
<line x1="644.2" y1="325.7" x2="644.2" y2="340.7" stroke="#e7222c" stroke-width="1"/>
<rect x="642.70" y="325.7" width="3" height="9.9" fill="#e7222c"/>
<line x1="647.8" y1="333" x2="647.8" y2="340.7" stroke="#e7222c" stroke-width="1"/>
<rect x="646.30" y="335.3" width="3" height="2.9" fill="#e7222c"/>
</g>
<g fill="none" stroke="#f0a21e" stroke-width="1.85" stroke-linejoin="miter" stroke-linecap="round">
<polyline points="660.5,354.6 696.6,285.5 735.6,326 785,224.8"/>
<polyline points="774.4,227 785,224.8 788.4,235.3"/>
<polyline points="761.5,308.2 833.3,382 888.8,245"/>
<polyline points="878.5,248.5 888.8,245 893.3,255.6"/>
</g>
<line x1="8" y1="481.4" x2="960.5" y2="481.4" stroke="#cfd1d7" stroke-width="1" stroke-dasharray="4.1 3.8"/>
<g id="hist">
<rect x="8.4" y="478.6" width="2.6" height="2.9" fill="#b5e3dd"/>
<rect x="11.4" y="479.5" width="2.6" height="2.0" fill="#b5e3dd"/>
<rect x="14.5" y="479.9" width="2.6" height="1.6" fill="#b5e3dd"/>
<rect x="17.7" y="479.9" width="2.6" height="1.6" fill="#b5e3dd"/>
<rect x="20.7" y="479.9" width="2.6" height="1.6" fill="#b5e3dd"/>
<rect x="23.8" y="479.2" width="2.6" height="2.3" fill="#22a595"/>
<rect x="27.2" y="477.4" width="2.6" height="4.1" fill="#22a595"/>
<rect x="30.3" y="475.7" width="2.6" height="5.8" fill="#22a595"/>
<rect x="33.5" y="474.2" width="2.6" height="7.3" fill="#22a595"/>
<rect x="36.8" y="473.4" width="2.6" height="8.1" fill="#22a595"/>
<rect x="40.0" y="474.2" width="2.6" height="7.3" fill="#b5e3dd"/>
<rect x="43.2" y="475.1" width="2.6" height="6.4" fill="#b5e3dd"/>
<rect x="46.5" y="473.9" width="2.6" height="7.6" fill="#22a595"/>
<rect x="49.7" y="474.6" width="2.6" height="6.9" fill="#b5e3dd"/>
<rect x="52.8" y="475.7" width="2.6" height="5.8" fill="#b5e3dd"/>
<rect x="56.2" y="476.9" width="2.6" height="4.6" fill="#b5e3dd"/>
<rect x="59.3" y="477.8" width="2.6" height="3.7" fill="#b5e3dd"/>
<rect x="62.5" y="479.5" width="2.6" height="2.0" fill="#b5e3dd"/>
<rect x="66.0" y="475.1" width="2.6" height="6.4" fill="#22a595"/>
<rect x="69.2" y="473.9" width="2.6" height="7.6" fill="#22a595"/>
<rect x="72.5" y="472.8" width="2.6" height="8.7" fill="#22a595"/>
<rect x="76.0" y="469.0" width="2.6" height="12.5" fill="#22a595"/>
<rect x="79.0" y="469.5" width="2.6" height="12.0" fill="#b5e3dd"/>
<rect x="82.4" y="470.4" width="2.6" height="11.1" fill="#b5e3dd"/>
<rect x="85.5" y="471.6" width="2.6" height="9.9" fill="#b5e3dd"/>
<rect x="88.7" y="473.4" width="2.6" height="8.1" fill="#b5e3dd"/>
<rect x="91.9" y="473.9" width="2.6" height="7.6" fill="#b5e3dd"/>
<rect x="95.4" y="472.8" width="2.6" height="8.7" fill="#22a595"/>
<rect x="98.5" y="473.0" width="2.6" height="8.5" fill="#b5e3dd"/>
<rect x="101.9" y="471.1" width="2.6" height="10.4" fill="#22a595"/>
<rect x="105.0" y="470.4" width="2.6" height="11.1" fill="#22a595"/>
<rect x="108.4" y="470.0" width="2.6" height="11.5" fill="#22a595"/>
<rect x="111.5" y="472.5" width="2.6" height="9.0" fill="#b5e3dd"/>
<rect x="114.7" y="474.6" width="2.6" height="6.9" fill="#b5e3dd"/>
<rect x="118.2" y="476.9" width="2.6" height="4.6" fill="#b5e3dd"/>
<rect x="121.4" y="479.5" width="2.6" height="2.0" fill="#b5e3dd"/>
<rect x="124.6" y="480.9" width="2.6" height="0.8" fill="#b5e3dd"/>
<rect x="127.9" y="481.5" width="2.6" height="0.8" fill="#f0514d"/>
<rect x="130.9" y="481.5" width="2.6" height="1.5" fill="#f0514d"/>
<rect x="134.0" y="481.5" width="2.6" height="2.4" fill="#f0514d"/>
<rect x="137.6" y="481.5" width="2.6" height="3.3" fill="#f0514d"/>
<rect x="140.7" y="481.5" width="2.6" height="4.7" fill="#f0514d"/>
<rect x="144.1" y="481.5" width="2.6" height="5.9" fill="#f0514d"/>
<rect x="147.6" y="481.5" width="2.6" height="6.8" fill="#f0514d"/>
<rect x="150.7" y="481.5" width="2.6" height="7.7" fill="#f0514d"/>
<rect x="154.3" y="481.5" width="2.6" height="9.4" fill="#f0514d"/>
<rect x="157.4" y="481.5" width="2.6" height="8.6" fill="#fdcfd3"/>
<rect x="160.6" y="481.5" width="2.6" height="6.8" fill="#fdcfd3"/>
<rect x="163.9" y="481.5" width="2.6" height="5.9" fill="#fdcfd3"/>
<rect x="167.1" y="481.5" width="2.6" height="4.7" fill="#fdcfd3"/>
<rect x="170.5" y="481.5" width="2.6" height="4.7" fill="#fdcfd3"/>
<rect x="173.6" y="481.5" width="2.6" height="3.3" fill="#fdcfd3"/>
<rect x="176.6" y="481.5" width="2.6" height="1.9" fill="#fdcfd3"/>
<rect x="179.8" y="481.5" width="2.6" height="0.8" fill="#fdcfd3"/>
<rect x="183.1" y="481.5" width="2.6" height="0.8" fill="#fdcfd3"/>
<rect x="186.6" y="481.5" width="2.6" height="5.4" fill="#f0514d"/>
<rect x="190.0" y="481.5" width="2.6" height="7.7" fill="#f0514d"/>
<rect x="193.3" y="481.5" width="2.6" height="8.9" fill="#f0514d"/>
<rect x="196.5" y="481.5" width="2.6" height="9.6" fill="#f0514d"/>
<rect x="199.8" y="481.5" width="2.6" height="10.3" fill="#f0514d"/>
<rect x="203.0" y="481.5" width="2.6" height="9.4" fill="#fdcfd3"/>
<rect x="206.1" y="481.5" width="2.6" height="8.2" fill="#fdcfd3"/>
<rect x="209.5" y="481.5" width="2.6" height="7.2" fill="#fdcfd3"/>
<rect x="212.6" y="481.5" width="2.6" height="5.9" fill="#fdcfd3"/>
<rect x="215.8" y="481.5" width="2.6" height="3.6" fill="#fdcfd3"/>
<rect x="219.1" y="481.5" width="2.6" height="1.5" fill="#fdcfd3"/>
<rect x="222.3" y="480.6" width="2.6" height="0.9" fill="#22a595"/>
<rect x="225.5" y="479.9" width="2.6" height="1.6" fill="#22a595"/>
<rect x="228.8" y="481.5" width="2.6" height="0.8" fill="#f0514d"/>
<rect x="232.0" y="481.5" width="2.6" height="1.2" fill="#f0514d"/>
<rect x="235.1" y="481.5" width="2.6" height="1.9" fill="#f0514d"/>
<rect x="238.5" y="481.5" width="2.6" height="2.6" fill="#f0514d"/>
<rect x="241.6" y="481.5" width="2.6" height="3.6" fill="#f0514d"/>
<rect x="244.8" y="481.5" width="2.6" height="4.7" fill="#f0514d"/>
<rect x="248.2" y="481.5" width="2.6" height="5.4" fill="#f0514d"/>
<rect x="251.3" y="481.5" width="2.6" height="6.1" fill="#f0514d"/>
<rect x="254.5" y="481.5" width="2.6" height="7.2" fill="#f0514d"/>
<rect x="257.8" y="481.5" width="2.6" height="7.7" fill="#fdcfd3"/>
<rect x="261.0" y="481.5" width="2.6" height="9.4" fill="#f0514d"/>
<rect x="264.5" y="481.5" width="2.6" height="10.3" fill="#f0514d"/>
<rect x="267.7" y="481.5" width="2.6" height="11.0" fill="#f0514d"/>
<rect x="271.0" y="481.5" width="2.6" height="8.6" fill="#fdcfd3"/>
<rect x="274.2" y="481.5" width="2.6" height="7.2" fill="#fdcfd3"/>
<rect x="277.3" y="481.5" width="2.6" height="5.4" fill="#fdcfd3"/>
<rect x="280.7" y="481.5" width="2.6" height="4.0" fill="#fdcfd3"/>
<rect x="283.8" y="481.5" width="2.6" height="2.6" fill="#fdcfd3"/>
<rect x="287.0" y="481.5" width="2.6" height="1.2" fill="#fdcfd3"/>
<rect x="290.3" y="481.3" width="2.6" height="0.8" fill="#b5e3dd"/>
<rect x="293.5" y="480.8" width="2.6" height="0.8" fill="#22a595"/>
<rect x="296.7" y="480.9" width="2.6" height="0.8" fill="#b5e3dd"/>
<rect x="300.0" y="480.6" width="2.6" height="0.9" fill="#22a595"/>
<rect x="303.2" y="480.2" width="2.6" height="1.3" fill="#22a595"/>
<rect x="306.3" y="480.9" width="2.6" height="0.8" fill="#b5e3dd"/>
<rect x="309.7" y="481.5" width="2.6" height="0.8" fill="#fdcfd3"/>
<rect x="312.8" y="481.5" width="2.6" height="0.8" fill="#fdcfd3"/>
<rect x="316.0" y="481.3" width="2.6" height="0.8" fill="#b5e3dd"/>
<rect x="319.3" y="480.9" width="2.6" height="0.8" fill="#22a595"/>
<rect x="322.5" y="479.5" width="2.6" height="2.0" fill="#22a595"/>
<rect x="325.7" y="478.5" width="2.6" height="3.0" fill="#22a595"/>
<rect x="329.0" y="480.4" width="2.6" height="1.1" fill="#b5e3dd"/>
<rect x="332.2" y="479.5" width="2.6" height="2.0" fill="#22a595"/>
<rect x="335.3" y="478.8" width="2.6" height="2.7" fill="#22a595"/>
<rect x="339.6" y="477.8" width="2.6" height="3.7" fill="#22a595"/>
<rect x="342.7" y="477.4" width="2.6" height="4.1" fill="#22a595"/>
<rect x="346.1" y="476.9" width="2.6" height="4.6" fill="#22a595"/>
<rect x="349.2" y="476.4" width="2.6" height="5.1" fill="#22a595"/>
<rect x="352.4" y="476.0" width="2.6" height="5.5" fill="#22a595"/>
<rect x="355.8" y="477.4" width="2.6" height="4.1" fill="#b5e3dd"/>
<rect x="358.9" y="478.6" width="2.6" height="2.9" fill="#b5e3dd"/>
<rect x="362.1" y="479.5" width="2.6" height="2.0" fill="#b5e3dd"/>
<rect x="365.4" y="480.9" width="2.6" height="0.8" fill="#b5e3dd"/>
<rect x="368.6" y="481.5" width="2.6" height="0.8" fill="#fdcfd3"/>
<rect x="371.7" y="481.5" width="2.6" height="0.8" fill="#f0514d"/>
<rect x="375.1" y="481.5" width="2.6" height="0.8" fill="#f0514d"/>
<rect x="378.3" y="481.5" width="2.6" height="0.8" fill="#fdcfd3"/>
<rect x="381.4" y="481.3" width="2.6" height="0.8" fill="#22a595"/>
<rect x="384.8" y="481.1" width="2.6" height="0.8" fill="#22a595"/>
<rect x="387.9" y="480.9" width="2.6" height="0.8" fill="#22a595"/>
<rect x="391.1" y="480.8" width="2.6" height="0.8" fill="#22a595"/>
<rect x="394.4" y="480.6" width="2.6" height="0.9" fill="#22a595"/>
<rect x="397.6" y="480.2" width="2.6" height="1.3" fill="#22a595"/>
<rect x="400.7" y="479.9" width="2.6" height="1.6" fill="#22a595"/>
<rect x="404.1" y="479.5" width="2.6" height="2.0" fill="#22a595"/>
<rect x="407.3" y="479.3" width="2.6" height="2.2" fill="#22a595"/>
<rect x="410.4" y="479.9" width="2.6" height="1.6" fill="#b5e3dd"/>
<rect x="413.8" y="480.9" width="2.6" height="0.8" fill="#b5e3dd"/>
<rect x="416.9" y="481.5" width="2.6" height="0.8" fill="#f0514d"/>
<rect x="420.1" y="481.5" width="2.6" height="1.9" fill="#f0514d"/>
<rect x="423.4" y="481.5" width="2.6" height="3.3" fill="#f0514d"/>
<rect x="426.6" y="481.5" width="2.6" height="4.0" fill="#f0514d"/>
<rect x="429.8" y="481.5" width="2.6" height="4.7" fill="#f0514d"/>
<rect x="433.1" y="481.5" width="2.6" height="4.4" fill="#fdcfd3"/>
<rect x="436.3" y="481.5" width="2.6" height="4.2" fill="#fdcfd3"/>
<rect x="439.4" y="481.5" width="2.6" height="5.1" fill="#f0514d"/>
<rect x="442.8" y="481.5" width="2.6" height="4.0" fill="#fdcfd3"/>
<rect x="445.9" y="481.5" width="2.6" height="2.9" fill="#fdcfd3"/>
<rect x="449.1" y="481.5" width="2.6" height="1.9" fill="#fdcfd3"/>
<rect x="452.4" y="481.5" width="2.6" height="0.8" fill="#fdcfd3"/>
<rect x="455.6" y="480.9" width="2.6" height="0.8" fill="#22a595"/>
<rect x="458.8" y="479.5" width="2.6" height="2.0" fill="#22a595"/>
<rect x="462.1" y="480.2" width="2.6" height="1.3" fill="#b5e3dd"/>
<rect x="465.3" y="480.4" width="2.6" height="1.1" fill="#b5e3dd"/>
<rect x="468.4" y="479.5" width="2.6" height="2.0" fill="#22a595"/>
<rect x="471.8" y="479.2" width="2.6" height="2.3" fill="#22a595"/>
<rect x="474.9" y="478.5" width="2.6" height="3.0" fill="#22a595"/>
<rect x="478.1" y="477.8" width="2.6" height="3.7" fill="#22a595"/>
<rect x="481.4" y="477.4" width="2.6" height="4.1" fill="#22a595"/>
<rect x="484.6" y="478.1" width="2.6" height="3.4" fill="#b5e3dd"/>
<rect x="487.8" y="478.8" width="2.6" height="2.7" fill="#b5e3dd"/>
<rect x="491.1" y="479.5" width="2.6" height="2.0" fill="#b5e3dd"/>
<rect x="494.3" y="479.9" width="2.6" height="1.6" fill="#b5e3dd"/>
<rect x="497.4" y="479.9" width="2.6" height="1.6" fill="#b5e3dd"/>
<rect x="500.8" y="479.5" width="2.6" height="2.0" fill="#22a595"/>
<rect x="503.9" y="479.5" width="2.6" height="2.0" fill="#b5e3dd"/>
<rect x="507.1" y="479.2" width="2.6" height="2.3" fill="#22a595"/>
<rect x="509.6" y="478.6" width="2.6" height="2.9" fill="#22a595"/>
<rect x="512.7" y="478.6" width="2.6" height="2.9" fill="#22a595"/>
<rect x="516.1" y="478.6" width="2.6" height="2.9" fill="#22a595"/>
<rect x="519.2" y="478.6" width="2.6" height="2.9" fill="#b5e3dd"/>
<rect x="522.4" y="479.2" width="2.6" height="2.3" fill="#b5e3dd"/>
<rect x="525.8" y="478.8" width="2.6" height="2.7" fill="#22a595"/>
<rect x="528.9" y="479.2" width="2.6" height="2.3" fill="#b5e3dd"/>
<rect x="532.1" y="479.2" width="2.6" height="2.3" fill="#22a595"/>
<rect x="535.4" y="479.9" width="2.6" height="1.6" fill="#b5e3dd"/>
<rect x="538.6" y="480.4" width="2.6" height="1.1" fill="#b5e3dd"/>
<rect x="541.7" y="480.9" width="2.6" height="0.8" fill="#b5e3dd"/>
<rect x="545.1" y="481.5" width="2.6" height="0.8" fill="#b5e3dd"/>
<rect x="548.3" y="481.5" width="2.6" height="0.8" fill="#f0514d"/>
<rect x="551.4" y="481.5" width="2.6" height="1.9" fill="#f0514d"/>
<rect x="554.8" y="481.5" width="2.6" height="2.9" fill="#f0514d"/>
<rect x="557.9" y="481.5" width="2.6" height="4.2" fill="#f0514d"/>
<rect x="561.1" y="481.5" width="2.6" height="5.1" fill="#f0514d"/>
<rect x="564.4" y="481.5" width="2.6" height="4.2" fill="#fdcfd3"/>
<rect x="567.6" y="481.5" width="2.6" height="3.3" fill="#fdcfd3"/>
<rect x="570.7" y="481.5" width="2.6" height="2.9" fill="#fdcfd3"/>
<rect x="574.1" y="481.5" width="2.6" height="4.2" fill="#f0514d"/>
<rect x="577.3" y="481.5" width="2.6" height="6.8" fill="#f0514d"/>
<rect x="580.4" y="481.5" width="2.6" height="8.9" fill="#f0514d"/>
<rect x="583.8" y="481.5" width="2.6" height="10.3" fill="#f0514d"/>
<rect x="586.9" y="481.5" width="2.6" height="11.2" fill="#f0514d"/>
<rect x="590.1" y="481.5" width="2.6" height="10.3" fill="#fdcfd3"/>
<rect x="593.4" y="481.5" width="2.6" height="8.9" fill="#fdcfd3"/>
<rect x="596.6" y="481.5" width="2.6" height="8.2" fill="#fdcfd3"/>
<rect x="599.8" y="481.5" width="2.6" height="6.8" fill="#fdcfd3"/>
<rect x="603.1" y="481.5" width="2.6" height="5.9" fill="#fdcfd3"/>
<rect x="606.3" y="481.5" width="2.6" height="4.7" fill="#fdcfd3"/>
<rect x="609.4" y="481.5" width="2.6" height="4.0" fill="#fdcfd3"/>
<rect x="612.8" y="481.5" width="2.6" height="3.6" fill="#f0514d"/>
<rect x="615.9" y="481.5" width="2.6" height="2.9" fill="#fdcfd3"/>
<rect x="619.1" y="481.5" width="2.6" height="2.2" fill="#fdcfd3"/>
<rect x="622.4" y="481.5" width="2.6" height="1.9" fill="#fdcfd3"/>
<rect x="625.6" y="481.5" width="2.6" height="1.5" fill="#fdcfd3"/>
<rect x="628.8" y="481.5" width="2.6" height="1.9" fill="#f0514d"/>
<rect x="632.1" y="481.5" width="2.6" height="1.2" fill="#fdcfd3"/>
<rect x="635.3" y="481.5" width="2.6" height="0.8" fill="#fdcfd3"/>
<rect x="638.4" y="481.5" width="2.6" height="0.8" fill="#fdcfd3"/>
<rect x="641.8" y="481.5" width="2.6" height="0.8" fill="#fdcfd3"/>
<rect x="644.9" y="481.5" width="2.6" height="0.8" fill="#fdcfd3"/>
</g>
<polyline points="9.1,493.2 17.6,492.7 22.9,491.5 28.1,488.3 33.4,483.0 37.8,479.5 43.9,476.0 51.0,471.6 56.2,469.9 61.5,470.2 64.2,471.6 67.7,465.5 72.9,460.2 76.5,453.2 81.7,448.8 87.0,445.8 91.4,445.2 96.7,440.9 102.0,436.5 107.2,429.4 110.7,427.1 115.1,427.7 120.4,429.4 126.6,432.9 133.6,435.1 140.6,439.1 147.7,444.4 152.9,449.6 157.3,453.2 163.5,454.2 168.7,454.6 173.5,454.9 178.8,452.8 184.9,453.2 187.6,457.6 192.9,465.5 198.1,470.7 203.4,475.1 208.7,477.4 213.9,478.6 219.2,475.1 223.6,471.6 227.1,470.7 231.5,472.5 237.7,474.2 242.1,476.9 247.3,481.3 252.6,485.7 257.9,488.3 261.4,490.9 264.9,496.2 268.4,499.7 272.8,503.3 277.2,503.6 282.5,502.4 287.8,500.6 293.0,498.0 298.3,496.7 305.3,496.2 312.4,497.5 319.4,496.2 324.7,493.6 328.2,491.8 333.5,490.9 340.0,489.7 345.3,486.6 350.5,483.4 355.8,481.6 362.9,481.3 366.4,482.7 369.9,484.4 376.9,485.1 383.9,484.4 392.7,483.4 399.8,481.6 406.8,479.9 411.2,479.5 415.6,481.3 420.9,483.4 426.1,485.7 429.6,487.4 433.2,490.1 438.4,491.8 443.7,493.2 449.0,493.1 454.3,490.4 459.5,487.1 464.8,486.2 470.1,485.1 475.3,483.4 480.6,480.4 485.9,479.2 492.9,477.8 500.0,476.5 507.0,475.5 510.0,475.1 517.0,472.5 524.1,470.7 531.1,469.5 538.1,469.0 543.4,469.3 547.8,471.6 553.9,475.7 561.0,479.2 568.0,479.9 573.3,480.9 577.7,483.9 582.1,490.1 587.3,496.7 592.6,501.0 597.9,504.1 603.2,504.5 608.4,503.1 612.8,503.6 618.1,505.4 623.4,505.9 627.8,504.5 631.3,504.5 636.6,505.2 643.6,504.8 648.0,505.2" fill="none" stroke="#4f46cc" stroke-width="1.2" stroke-linejoin="round"/>
<polyline points="9.1,496.2 17.6,495.0 26.4,493.6 31.6,491.8 38.7,487.4 45.7,482.7 52.7,477.8 59.8,475.1 65.0,473.9 70.3,470.7 77.3,464.6 84.4,458.4 91.4,453.2 98.4,447.9 105.5,441.7 112.5,436.5 119.5,433.8 126.6,432.9 133.6,434.2 140.6,435.6 147.7,438.7 154.7,442.6 161.7,447.0 168.7,449.6 170.0,450.0 177.0,451.4 184.1,452.6 189.3,454.9 196.4,459.3 203.4,464.6 210.4,469.0 215.7,471.6 222.7,472.1 229.8,472.1 236.8,473.4 243.8,474.2 250.9,477.4 257.9,482.2 264.9,487.4 272.0,492.7 277.2,496.2 282.5,498.5 287.8,499.4 293.0,498.5 300.1,497.5 307.1,496.7 314.1,497.1 321.2,496.2 328.2,494.5 335.2,492.7 340.0,492.7 347.0,489.7 354.1,486.9 361.1,484.8 368.1,483.9 375.2,484.4 383.9,484.4 392.7,483.9 401.5,482.7 410.3,481.6 417.3,481.3 424.4,482.2 431.4,484.4 438.4,486.9 445.5,489.2 450.7,490.4 456.0,490.1 463.0,488.7 470.1,487.4 477.1,485.7 484.1,483.4 491.2,481.3 498.2,479.5 505.2,478.1 510.0,476.9 517.0,475.1 524.1,473.4 531.1,471.6 538.1,470.4 545.2,469.9 552.2,470.7 559.2,472.8 566.2,475.7 573.3,478.1 580.3,480.9 587.3,485.7 594.4,491.8 601.4,496.2 608.4,498.9 615.5,501.0 622.5,502.7 629.5,504.1 636.6,505.0 643.6,505.0 648.0,505.2" fill="none" stroke="#ead05a" stroke-width="1.2" stroke-linejoin="round"/>
<polygon points="768.9,455.9 696.8,463.9 697.1,455.9 676.2,475.9 703.2,486 699.6,479.1" fill="#1766f2" stroke="#1766f2" stroke-width="0.6" stroke-linejoin="round"/>
<g font-size="9.7" fill="#131722" stroke="#131722" stroke-width="0.06">
<text x="969.2" y="72.0" textLength="37.8" lengthAdjust="spacingAndGlyphs">3 080,00</text>
<text x="969.2" y="109.1" textLength="37.8" lengthAdjust="spacingAndGlyphs">3 040,00</text>
<text x="969.2" y="146.3" textLength="37.8" lengthAdjust="spacingAndGlyphs">3 000,00</text>
<text x="969.2" y="183.4" textLength="37.8" lengthAdjust="spacingAndGlyphs">2 960,00</text>
<text x="969.2" y="220.6" textLength="37.8" lengthAdjust="spacingAndGlyphs">2 920,00</text>
<text x="969.2" y="257.7" textLength="37.8" lengthAdjust="spacingAndGlyphs">2 880,00</text>
<text x="969.2" y="294.9" textLength="37.8" lengthAdjust="spacingAndGlyphs">2 840,00</text>
<text x="969.2" y="369.2" textLength="37.8" lengthAdjust="spacingAndGlyphs">2 760,00</text>
<text x="969.2" y="406.3" textLength="37.8" lengthAdjust="spacingAndGlyphs">2 720,00</text>
<text x="969.2" y="431.0" textLength="24.6" lengthAdjust="spacingAndGlyphs">50,00</text>
<text x="969.2" y="458.1" textLength="24.6" lengthAdjust="spacingAndGlyphs">25,00</text>
<text x="969.2" y="484.0" textLength="19.4" lengthAdjust="spacingAndGlyphs">0,00</text>
<text x="969.2" y="510.9" textLength="30.8" lengthAdjust="spacingAndGlyphs">−25,00</text>
</g>
<rect x="963" y="277" width="48" height="11.8" rx="1.5" fill="#5d606b"/>
<text x="969.2" y="286.4" font-size="9.7" fill="#fff" textLength="37.8" lengthAdjust="spacingAndGlyphs">2 850,00</text>
<rect x="963" y="318" width="48" height="12" rx="1.5" fill="#5d606b"/>
<text x="969.2" y="327.5" font-size="9.7" fill="#fff" textLength="37.8" lengthAdjust="spacingAndGlyphs">2 800,00</text>
<rect x="963" y="330" width="48" height="25.4" rx="1.5" fill="#f0212d"/>
<text x="969.2" y="341.0" font-size="9.7" fill="#fff" textLength="37.8" lengthAdjust="spacingAndGlyphs">2 790,31</text>
<text x="969.2" y="352.2" font-size="9.7" fill="#ffd6d9" textLength="37.8" lengthAdjust="spacingAndGlyphs">03:00:57</text>
<rect x="965.5" y="24.5" width="43.5" height="19.5" rx="3" fill="#fff" stroke="#f4f5f7"/>
<text x="972" y="37.6" font-size="8.8" fill="#131722" stroke="#131722" stroke-width="0.2" textLength="18.4" lengthAdjust="spacingAndGlyphs">RUB</text>
<g font-size="10.1" fill="#131722" stroke="#131722" stroke-width="0.06" text-anchor="middle">
<text x="57" y="530.2">6</text>
<text x="107" y="530.2">11</text>
<text x="155" y="530.2">14</text>
<text x="197" y="530.2">17</text>
<text x="240" y="530.2">20</text>
<text x="289" y="530.2">23</text>
<text x="341" y="530.2">27</text>
<text x="458" y="530.2">4</text>
<text x="500" y="530.2">7</text>
<text x="543" y="530.2">10</text>
<text x="593" y="530.2">13</text>
<text x="645" y="530.2">17</text>
<text x="693" y="530.2">22</text>
<text x="742" y="530.2">25</text>
<text x="784.5" y="530.2">28</text>
<text x="876" y="530.2">4</text>
<text x="927.6" y="530.2">8</text>
<text x="409.5" y="530.2" font-weight="bold">Сен</text>
<text x="826.5" y="530.2" font-weight="bold">Окт</text>
<text x="1.4" y="530.2" font-weight="bold" text-anchor="start">Авг</text>
</g>
<text x="7.6" y="15.7" font-size="9.5" fill="#131722" stroke="#131722" stroke-width="0.15" textLength="327.2" lengthAdjust="spacingAndGlyphs">PKNCash создал(а) график на TradingView.com, Сен 17, 2025 11:59 UTC+3</text>
<g font-size="9.4" stroke-width="0.12">
<text x="13.7" y="37.2" fill="#131722" stroke="#131722" textLength="243.0" lengthAdjust="spacingAndGlyphs">Индекс МосБиржи (дополнительная сессия) · 4ч · RUS</text>
<text x="263.3" y="37.2" fill="#131722" stroke="#131722" textLength="23.3" lengthAdjust="spacingAndGlyphs">ОТКР</text>
<text x="287.6" y="37.2" fill="#d6303b" stroke="#d6303b" textLength="35.2" lengthAdjust="spacingAndGlyphs">2 793,16</text>
<text x="328.1" y="37.2" fill="#131722" stroke="#131722" textLength="25.9" lengthAdjust="spacingAndGlyphs">МАКС</text>
<text x="354.8" y="37.2" fill="#d6303b" stroke="#d6303b" textLength="35.7" lengthAdjust="spacingAndGlyphs">2 795,83</text>
<text x="397.1" y="37.2" fill="#131722" stroke="#131722" textLength="19.9" lengthAdjust="spacingAndGlyphs">МИН</text>
<text x="417.7" y="37.2" fill="#d6303b" stroke="#d6303b" textLength="35.3" lengthAdjust="spacingAndGlyphs">2 787,04</text>
<text x="458.9" y="37.2" fill="#131722" stroke="#131722" textLength="23.3" lengthAdjust="spacingAndGlyphs">ЗАКР</text>
<text x="482.7" y="37.2" fill="#d6303b" stroke="#d6303b" textLength="35.0" lengthAdjust="spacingAndGlyphs">2 790,31</text>
<text x="523.7" y="37.2" fill="#d6303b" stroke="#d6303b" textLength="63.8" lengthAdjust="spacingAndGlyphs">−2,78 (−0,10%)</text>
<text x="594.1" y="37.2" fill="#d6303b" stroke="#d6303b" textLength="69.8" lengthAdjust="spacingAndGlyphs">−10,68 (−0,38%)</text>
</g>
<g fill="#101217">
<path d="M5,554.4 H17.8 V565.7 H13 V558.6 H5 Z"/>
<circle cx="21.6" cy="556.3" r="1.95"/>
<path d="M25.7,554.4 H31.4 L27.3,565.7 H21.9 Z"/>
</g>
<text x="36.6" y="565.7" font-size="15.6" font-weight="bold" fill="#101217" textLength="91.3" lengthAdjust="spacingAndGlyphs">TradingView</text>
<rect x="817.5" y="4.3" width="203.1" height="6.7" fill="#000"/>
<rect x="1013.2" y="4.3" width="7.4" height="161.2" fill="#000"/>
<rect x="2.2" y="417.3" width="6.7" height="161.8" fill="#000"/>
<rect x="2.2" y="572.7" width="202.8" height="6.4" fill="#000"/>
<text x="760.9 786.4 817.2 848 874.1 896.5 918.5" y="570.8" font-size="32" font-weight="bold" fill="#000" stroke="#000" stroke-width="13.4" stroke-linejoin="round">PKNCash</text>
<text x="760.9 786.4 817.2 848 874.1 896.5 918.5" y="570.8" font-size="32" font-weight="bold" fill="#fff" stroke="#fff" stroke-width="3.4" stroke-linejoin="miter">PKNCash</text>
<path d="M966.9,529.8 C970.5,531.3 974.8,534.6 977.3,539 C979.2,542.4 980.1,545.5 980.5,548.7 C981.5,548.3 982.7,547.4 983.7,546.4 C985.6,550.4 986.2,555.5 986.2,560.5 C986.2,569.6 978.6,575.9 967.3,575.9 C955.9,575.9 949.9,569 949.9,560 C949.9,552 952.4,544.3 955.9,539.4 C957.4,540.6 958.4,542 958.9,543.7 C961,540.6 963.2,537 964.5,533.4 C965.2,531.4 965.9,530.2 966.9,529.8 Z" fill="url(#fireO)" stroke="#0a0a0a" stroke-width="2.7" stroke-linejoin="round"/>
<path d="M956.3,541.2 C957.9,544 958.3,548 957.8,552.6" fill="none" stroke="#0a0a0a" stroke-width="2.3" stroke-linecap="round"/>
<path d="M980.5,548.5 C980.8,551 980.5,553.2 979.8,555.2" fill="none" stroke="#0a0a0a" stroke-width="1.9" stroke-linecap="round"/>
</svg>
</body></html>
